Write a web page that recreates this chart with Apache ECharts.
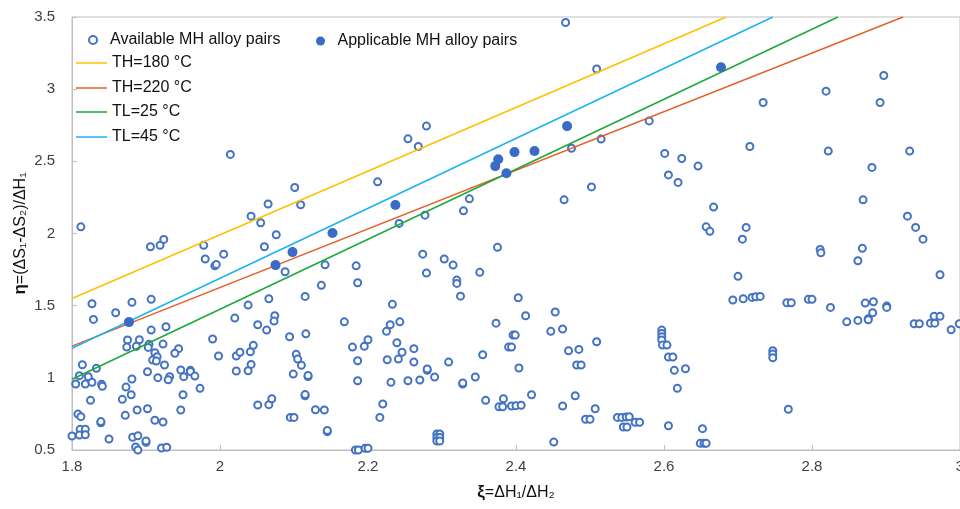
<!DOCTYPE html>
<html>
<head>
<meta charset="utf-8">
<title>MH alloy pairs</title>
<script src="https://cdn.jsdelivr.net/npm/echarts@6.0.0/dist/echarts.min.js"></script>
<style>
	html, body { margin: 0; padding: 0; background: #fff; }
	#shape-main { width: 960px; height: 509px; }
</style>
</head>
<body>
<div id="shape-main"></div>
<script>
//----------------------- data ------------------------------
var xTicks = [1.8, 2, 2.2, 2.4, 2.6, 2.8, 3];
var yTicks = [0.5, 1, 1.5, 2, 2.5, 3, 3.5];

// [xi, eta] of every available pair
var availablePairs = [
	[2.014,2.548],[1.812,2.046],[2.101,2.319],[2.065,2.204],[2.109,2.199],[2.042,2.120],[2.055,2.074],[2.076,1.991],
	[1.906,1.908],[1.919,1.918],[1.924,1.959],[1.978,1.918],[2.060,1.908],[2.467,3.462],[2.509,3.140],[2.279,2.744],
	[2.254,2.656],[2.268,2.603],[2.475,2.591],[2.515,2.654],[2.213,2.358],[2.337,2.240],[2.329,2.157],[2.277,2.127],
	[2.242,2.070],[2.502,2.323],[2.465,2.233],[2.375,1.904],[2.580,2.780],[2.734,2.908],[2.819,2.986],[2.897,3.095],
	[2.892,2.908],[2.716,2.603],[2.822,2.571],[2.932,2.571],[2.601,2.555],[2.624,2.520],[2.646,2.467],[2.606,2.406],
	[2.619,2.354],[2.881,2.458],[2.667,2.183],[2.869,2.233],[2.657,2.046],[2.662,2.015],[2.711,2.042],[2.706,1.961],
	[2.929,2.120],[2.940,2.042],[2.950,1.961],[2.811,1.890],[2.868,1.897],[1.980,1.823],[1.993,1.776],[1.995,1.786],
	[2.005,1.857],[2.088,1.735],[2.142,1.783],[2.184,1.776],[2.186,1.659],[2.137,1.641],[2.115,1.564],[2.066,1.548],
	[2.038,1.504],[1.827,1.513],[1.881,1.523],[1.907,1.544],[1.859,1.451],[1.829,1.405],[2.020,1.414],[2.074,1.430],
	[2.073,1.393],[2.051,1.368],[2.063,1.331],[2.168,1.388],[1.907,1.331],[1.927,1.354],[1.990,1.269],[2.094,1.285],
	[2.116,1.305],[1.875,1.262],[1.891,1.264],[1.874,1.213],[1.887,1.218],[1.904,1.232],[1.903,1.211],[1.923,1.234],
	[1.944,1.202],[1.939,1.170],[1.912,1.174],[1.915,1.146],[1.909,1.123],[1.914,1.116],[1.925,1.089],[2.179,1.213],
	[2.186,1.118],[1.998,1.151],[2.022,1.151],[2.027,1.177],[2.041,1.181],[2.045,1.225],[2.042,1.093],[2.038,1.049],
	[2.022,1.047],[2.103,1.163],[2.105,1.130],[2.110,1.087],[2.099,1.026],[2.119,1.008],[2.119,1.016],[2.186,0.980],
	[1.814,1.091],[1.833,1.066],[1.810,1.015],[1.822,1.008],[1.805,0.957],[1.818,0.957],[1.827,0.969],[1.840,0.955],
	[1.841,0.941],[1.881,0.992],[1.902,1.042],[1.916,1.001],[1.932,1.008],[1.930,0.987],[1.947,1.054],[1.960,1.052],
	[1.960,1.044],[1.951,1.008],[1.966,1.012],[1.973,0.927],[1.873,0.936],[1.880,0.883],[1.868,0.851],[1.825,0.844],
	[1.950,0.883],[1.947,0.777],[1.902,0.786],[1.888,0.777],[1.872,0.740],[1.808,0.749],[1.812,0.731],[1.839,0.689],
	[1.839,0.697],[1.912,0.706],[1.923,0.694],[2.051,0.812],[2.066,0.814],[2.070,0.855],[2.115,0.876],[2.115,0.884],
	[2.129,0.779],[2.141,0.777],[2.095,0.726],[2.100,0.726],[2.145,0.627],[2.145,0.635],[1.811,0.643],[1.818,0.643],
	[1.800,0.597],[1.810,0.604],[1.818,0.606],[1.850,0.576],[1.882,0.588],[1.889,0.599],[1.900,0.553],[1.900,0.562],
	[1.886,0.521],[1.889,0.500],[1.921,0.514],[1.928,0.519],[2.274,1.857],[2.303,1.823],[2.315,1.781],[2.279,1.726],
	[2.351,1.731],[2.320,1.677],[2.320,1.654],[2.325,1.566],[2.403,1.555],[2.233,1.509],[2.413,1.430],[2.453,1.456],
	[2.243,1.388],[2.230,1.368],[2.225,1.322],[2.373,1.379],[2.447,1.322],[2.463,1.338],[2.396,1.296],[2.399,1.296],
	[2.200,1.264],[2.195,1.218],[2.239,1.243],[2.262,1.202],[2.246,1.177],[2.241,1.130],[2.226,1.125],[2.262,1.109],
	[2.309,1.109],[2.355,1.160],[2.390,1.213],[2.394,1.213],[2.471,1.188],[2.485,1.197],[2.509,1.250],[2.482,1.089],
	[2.488,1.089],[2.404,1.068],[2.280,1.052],[2.280,1.061],[2.290,1.006],[2.231,0.969],[2.254,0.980],[2.270,0.985],
	[2.328,0.957],[2.328,0.964],[2.345,1.006],[2.220,0.819],[2.216,0.726],[2.359,0.844],[2.383,0.855],[2.377,0.800],
	[2.382,0.800],[2.394,0.805],[2.400,0.807],[2.407,0.810],[2.421,0.883],[2.480,0.876],[2.463,0.805],[2.507,0.786],
	[2.494,0.713],[2.500,0.713],[2.537,0.726],[2.543,0.726],[2.549,0.729],[2.553,0.731],[2.545,0.659],[2.550,0.659],
	[2.561,0.692],[2.567,0.692],[2.293,0.611],[2.297,0.611],[2.293,0.587],[2.297,0.587],[2.293,0.562],[2.297,0.562],
	[2.451,0.555],[2.183,0.500],[2.187,0.500],[2.196,0.512],[2.200,0.512],[2.812,1.866],[2.862,1.811],[2.700,1.703],
	[2.973,1.714],[2.693,1.539],[2.707,1.548],[2.719,1.557],[2.724,1.562],[2.730,1.564],[2.766,1.520],[2.772,1.520],
	[2.795,1.544],[2.800,1.544],[2.825,1.488],[2.872,1.518],[2.883,1.527],[2.901,1.497],[2.901,1.488],[2.882,1.451],
	[2.876,1.409],[2.876,1.402],[2.862,1.398],[2.847,1.388],[2.938,1.375],[2.945,1.375],[2.960,1.379],[2.966,1.379],
	[2.965,1.426],[2.973,1.426],[2.988,1.333],[2.999,1.375],[2.597,1.331],[2.597,1.308],[2.597,1.285],[2.597,1.262],
	[2.598,1.227],[2.604,1.227],[2.606,1.144],[2.612,1.144],[2.614,1.052],[2.629,1.063],[2.618,0.927],[2.747,1.188],
	[2.747,1.165],[2.747,1.139],[2.768,0.782],[2.606,0.668],[2.652,0.648],[2.649,0.546],[2.654,0.546],[2.657,0.546]
];

// [xi, eta] of the applicable pairs
var applicablePairs = [
	[1.877,1.386],[2.075,1.781],[2.098,1.871],[2.152,2.003],[2.237,2.197],[2.372,2.467],
	[2.376,2.515],[2.387,2.418],[2.398,2.564],[2.425,2.571],[2.469,2.744],[2.677,3.152]
];

// temperature limit lines, start and end point
var lineTH180 = [[1.8, 1.55], [2.684, 3.5]];
var lineTH220 = [[1.8, 1.22], [2.923, 3.5]];
var lineTL25 = [[1.8, 0.99], [2.835, 3.5]];
var lineTL45 = [[1.8, 1.205], [2.747, 3.5]];

//----------------------- chart ------------------------------
var dom = document.getElementById("shape-main");
var myChart = echarts.init(dom, null, { renderer: 'canvas' });
var option = null;
var FONT = "'Liberation Sans', 'DejaVu Sans', sans-serif";

function lineLegend(name, top) {
	return {
		data: [name],
		left: 76,
		top: top,
		padding: 0,
		orient: 'horizontal',
		selectedMode: false,
		icon: 'rect',
		itemWidth: 31,
		itemHeight: 1.5,
		textStyle: { fontFamily: FONT, fontSize: 16, color: '#111', lineHeight: 18 }
	};
}

function lineSeries(name, data, color) {
	return {
		name: name,
		type: 'line',
		data: data,
		symbol: 'none',
		showSymbol: false,
		z: 3,
		lineStyle: { color: color, width: 1.5 },
		itemStyle: { color: color }
	};
}

option = {
	animation: false,
	backgroundColor: '#fff',
	textStyle: { fontFamily: FONT },
	grid: {
		left: 72,
		right: 0,
		top: 17,
		bottom: 59,
		show: true,
		borderColor: '#bfbfbf',
		borderWidth: 1,
		outerBoundsMode: 'none'
	},
	legend: [{
		data: ['Available MH alloy pairs'],
		left: 88,
		top: 31,
		padding: 0,
		selectedMode: false,
		itemWidth: 24,
		itemHeight: 8,
		textStyle: { fontFamily: FONT, fontSize: 16, color: '#111', lineHeight: 18 }
	}, {
		data: ['Applicable MH alloy pairs'],
		left: 316,
		top: 32,
		padding: 0,
		selectedMode: false,
		itemWidth: 24,
		itemHeight: 9,
		textStyle: { fontFamily: FONT, fontSize: 16, color: '#111', lineHeight: 18 }
	},
		lineLegend('TH=180 °C', 54),
		lineLegend('TH=220 °C', 79),
		lineLegend('TL=25 °C', 103),
		lineLegend('TL=45 °C', 128)
	],
	xAxis: {
		type: 'value',
		min: xTicks[0],
		max: xTicks[xTicks.length - 1],
		interval: 0.2,
		name: '{b|ξ}=ΔH₁/ΔH₂',
		nameLocation: 'middle',
		nameGap: 34,
		nameMoveOverlap: false,
		nameTextStyle: {
			fontFamily: FONT, fontSize: 16, color: '#111',
			rich: { b: { fontFamily: FONT, fontSize: 17, fontWeight: 'bold', color: '#111' } }
		},
		splitLine: { show: false },
		axisLine: { lineStyle: { color: '#bfbfbf', width: 1 } },
		axisTick: { inside: true, length: 5, lineStyle: { color: '#bfbfbf' } },
		axisLabel: { fontFamily: FONT, fontSize: 15, color: '#404040', margin: 9 }
	},
	yAxis: {
		type: 'value',
		min: yTicks[0],
		max: yTicks[yTicks.length - 1],
		interval: 0.5,
		name: '{b|η}=(ΔS₁-ΔS₂)/ΔH₁',
		nameLocation: 'middle',
		nameGap: 43,
		nameMoveOverlap: false,
		nameTextStyle: {
			fontFamily: FONT, fontSize: 16, color: '#111',
			rich: { b: { fontFamily: FONT, fontSize: 17, fontWeight: 'bold', color: '#111' } }
		},
		splitLine: { show: false },
		axisLine: { show: true, lineStyle: { color: '#bfbfbf', width: 1 } },
		axisTick: { show: true, inside: true, length: 5, lineStyle: { color: '#bfbfbf' } },
		axisLabel: { fontFamily: FONT, fontSize: 15, color: '#404040', margin: 17 }
	},
	series: [{
		name: 'Available MH alloy pairs',
		type: 'scatter',
		data: availablePairs,
		symbol: 'emptyCircle',
		symbolSize: 7,
		z: 2,
		itemStyle: { color: '#4472C4', borderColor: '#4472C4', borderWidth: 1.3, opacity: 1 }
	}, {
		name: 'Applicable MH alloy pairs',
		type: 'scatter',
		data: applicablePairs,
		symbol: 'circle',
		symbolSize: 10,
		z: 4,
		itemStyle: { color: '#3A6BC6', opacity: 1 }
	},
		lineSeries('TH=180 °C', lineTH180, '#FFC000'),
		lineSeries('TH=220 °C', lineTH220, '#E2602A'),
		lineSeries('TL=25 °C', lineTL25, '#1DA83C'),
		lineSeries('TL=45 °C', lineTL45, '#19B4F0')
	]
};
if(option && typeof option === "object") {
	myChart.setOption(option, true);
}
</script>
</body>
</html>
